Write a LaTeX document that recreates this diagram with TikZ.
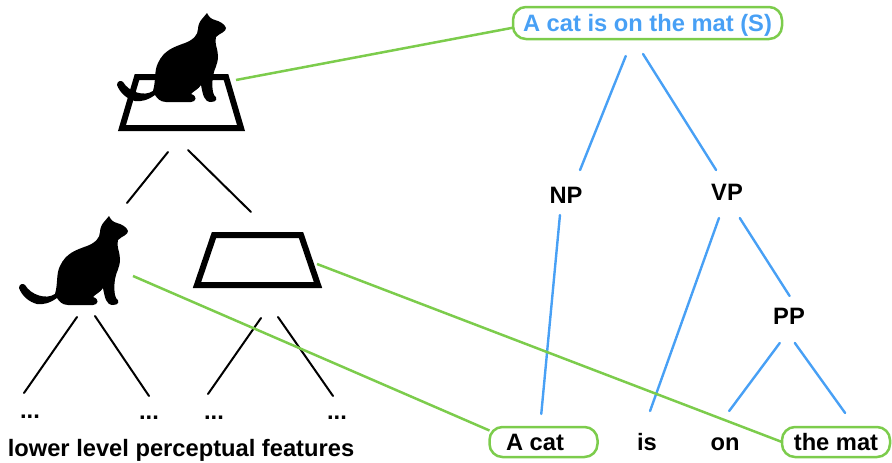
\documentclass[tikz,border=0pt]{standalone}
\usepackage{fontspec}
\setmainfont{Liberation Sans}
\tikzset{
	treeline/.style={line width=2pt, line cap=round, color=black},
	parseline/.style={line width=2.4pt, line cap=round, color=parseblue},
	linkline/.style={line width=2.5pt, color=linkgreen},
	matline/.style={line width=6pt, line join=miter},
	word/.style={inner sep=0pt, outer sep=0pt, minimum width=36pt, minimum height=36pt, text height=16pt, text depth=0pt, font=\fontsize{23.7}{27}\bfseries},
	wordbox/.style={word, draw=linkgreen, line width=2.5pt, rounded corners=13pt, minimum width=108pt, minimum height=30pt},
	dots/.style={anchor=base, font=\fontsize{23.7}{27}\bfseries},
	cat/.pic={
		\fill (109,216) .. controls (111,220) and (113,222) .. (117,223)
			.. controls (121,224) and (127,227) .. (128,231)
			.. controls (128,235) and (122,236) .. (118,240)
			.. controls (116,246) and (120,252) .. (120,259)
			.. controls (120,268) and (116,272) .. (115,279)
			.. controls (114,286) and (114,294) .. (116,298)
			.. controls (120,301) and (119,305) .. (113,305)
			.. controls (106,305) and (105,298) .. (103,288)
			.. controls (101,292) and (94,295) .. (93,297)
			.. controls (100,299) and (98,305) .. (93,305)
			-- (68,305)
			.. controls (62,305) and (59,301) .. (57,298)
			.. controls (50,303) and (43,305) .. (37,304)
			.. controls (29,302) and (22,296) .. (19,288)
			.. controls (19,284) and (23,283) .. (25,285)
			.. controls (31,295) and (46,300) .. (55,294)
			.. controls (58,284) and (56,274) .. (60,266)
			.. controls (66,253) and (76,250) .. (87,246)
			.. controls (95,243) and (100,238) .. (100,232)
			.. controls (100,228) and (102,224) .. (104,222) -- cycle;
	}
}
\definecolor{parseblue}{RGB}{72,160,245}
\definecolor{linkgreen}{RGB}{124,204,76}

\begin{document}
\begin{tikzpicture}[x=1pt, y=-1pt]
	\useasboundingbox (0,0) rectangle (892,463);

	% scene on the left
	\draw[matline] (137,77) -- (226,77) -- (241,128) -- (122,128) -- cycle;
	\pic at (98,-203) {cat};
	\pic at (0,0) {cat};
	\draw[matline] (214,235) -- (301,235) -- (318,285) -- (197,285) -- cycle;

	\coordinate (scene-l) at (168,152);
	\coordinate (scene-r) at (188,150);
	\coordinate (cat-up) at (127,203);
	\coordinate (mat-up) at (251,212);
	\coordinate (cat-l) at (77,317);
	\coordinate (cat-r) at (95,316);
	\coordinate (mat-l) at (261,318);
	\coordinate (mat-r) at (278,317);
	\coordinate (low-a) at (24,393);
	\coordinate (low-b) at (149,396);
	\coordinate (low-c) at (208,394);
	\coordinate (low-d) at (333,396);

	\draw[treeline] (scene-l) -- (cat-up);
	\draw[treeline] (scene-r) -- (mat-up);
	\draw[treeline] (cat-l) -- (low-a);
	\draw[treeline] (cat-r) -- (low-b);
	\draw[treeline] (mat-l) -- (low-c);
	\draw[treeline] (mat-r) -- (low-d);

	\node[dots] (dots-a) at (30,418) {...};
	\node[dots] (dots-b) at (149,419) {...};
	\node[dots] (dots-c) at (214,419) {...};
	\node[dots] (dots-d) at (337,419) {...};
	\node[anchor=base, font=\fontsize{23.7}{27}\bfseries] (lower) at (181,456) {lower level perceptual features};

	% parse tree on the right
	\node[wordbox, minimum width=269pt, minimum height=32pt, text=parseblue] (S) at (647.5,23) {A cat is on the mat (S)};
	\node[word] (NP) at (566,195) {NP};
	\node[word] (VP) at (727,192) {VP};
	\node[word] (PP) at (789,316) {PP};
	\node[wordbox] (acat) at (543.5,442) {A cat\kern17pt};
	\node[word] (is) at (647,442) {is};
	\node[word] (on) at (725,442) {on};
	\node[wordbox] (themat) at (836,442) {the mat};

	\draw[parseline, shorten <=18.3pt, shorten >=7.5pt] (S.227.6) -- (NP.58.1);
	\draw[parseline, shorten <=17.7pt, shorten >=4.7pt] (S.229) -- (VP.115.3);
	\draw[parseline, shorten <=2pt, shorten >=13.1pt] (NP.252.1) -- (acat.103.9);
	\draw[parseline, shorten <=8.5pt, shorten >=13.8pt] (VP.254.2) -- (is.95);
	\draw[parseline, shorten <=9.5pt, shorten >=2.4pt] (VP.293.7) -- (PP.84.6);
	\draw[parseline, shorten <=11.2pt, shorten >=16.2pt] (PP.262.9) -- (on.107.7);
	\draw[parseline, shorten <=11pt, shorten >=17.2pt] (PP.268.7) -- (themat.38.3);

	% links between the two
	\coordinate (scene-link) at (236,80);
	\coordinate (cat-link) at (133,276);
	\coordinate (mat-link) at (317,264);
	\draw[linkline] (scene-link) -- (S.182);
	\draw[linkline] (cat-link) -- (acat.168);
	\draw[linkline] (mat-link) -- (themat.west);
\end{tikzpicture}
\end{document}
